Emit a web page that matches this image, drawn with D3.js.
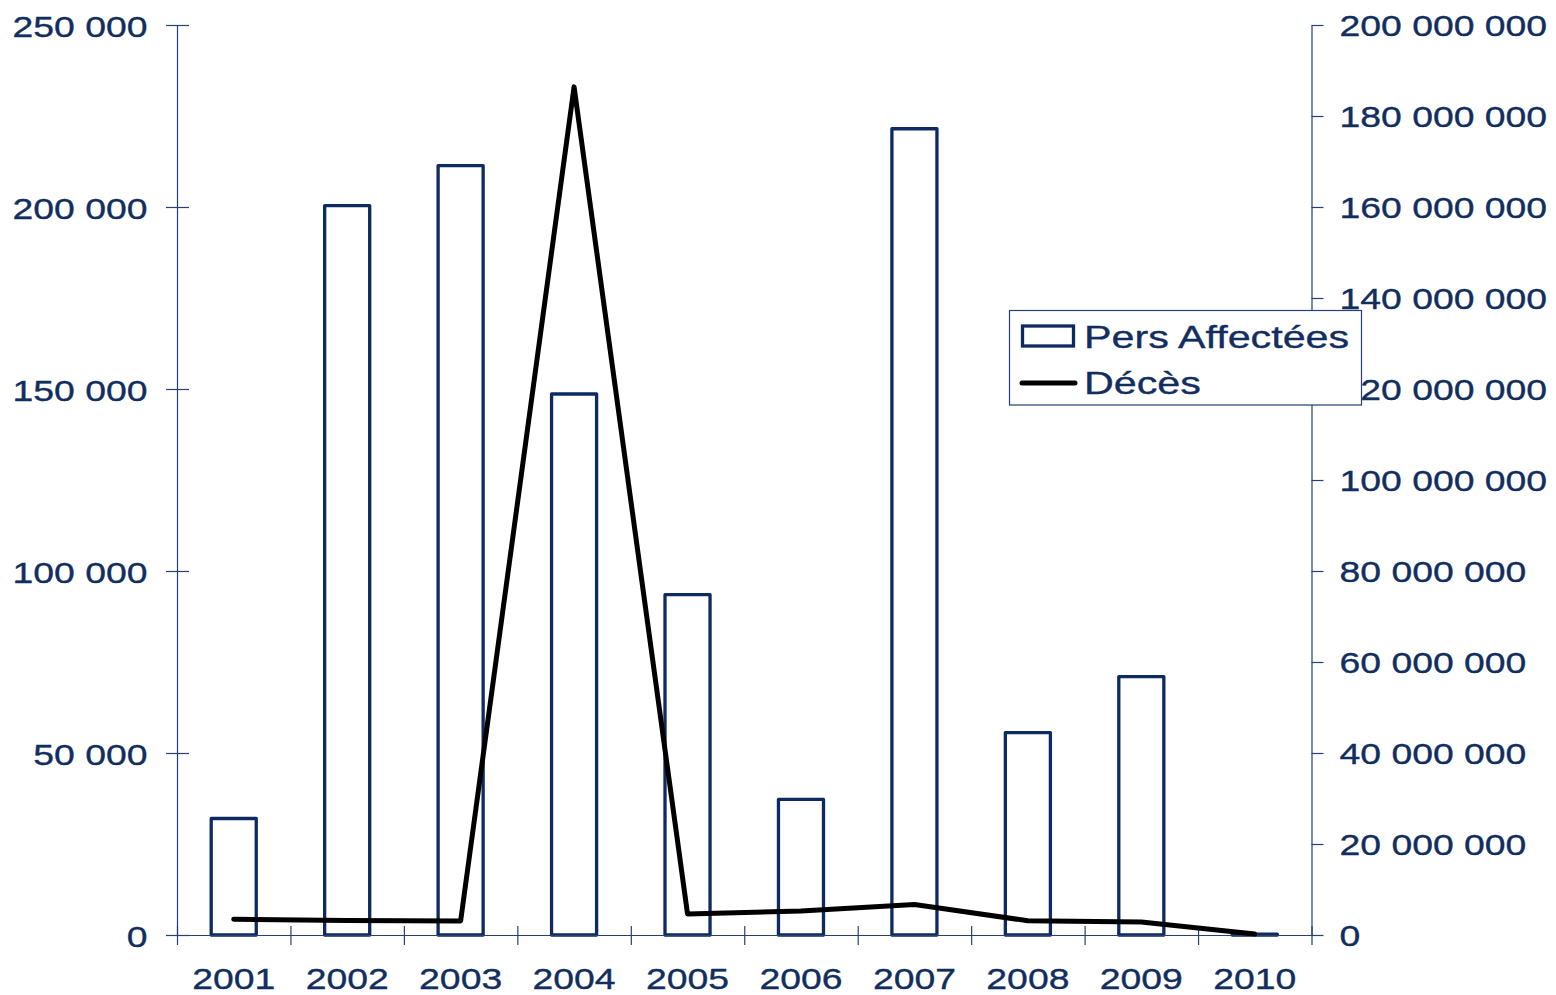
<!DOCTYPE html>
<html>
<head>
<meta charset="utf-8">
<script src="https://cdn.jsdelivr.net/npm/d3@7"></script>
<style>
  html, body { margin: 0; padding: 0; background: #ffffff; }
  svg { display: block; }
</style>
</head>
<body>
<svg id="chart" width="1556" height="995"></svg>
<script>
// ---- data ----
const years = ['2001','2002','2003','2004','2005','2006','2007','2008','2009','2010'];
const persAffectees = [25600000, 160300000, 169100000, 118900000, 74800000, 29800000, 177200000, 44500000, 56800000, 200000];
const deces = [4300, 4000, 3850, 233000, 5800, 6600, 8400, 3900, 3600, 300];
const leftTicks = [0, 50000, 100000, 150000, 200000, 250000];
const rightTicks = [0, 20000000, 40000000, 60000000, 80000000, 100000000, 120000000, 140000000, 160000000, 180000000, 200000000];
const seriesNames = ['Pers Affectées', 'Décès'];

(function () {
// ---- style ----
const NAVY = '#0d2a61';
const TEXT = '#122e5e';
const AXIS = '#26406f';
const FONT = "'Liberation Sans', Arial, sans-serif";
const FS = 30, SX = 1.245;

const svg = d3.select('#chart');
svg.append('rect').attr('width', 1556).attr('height', 995).attr('fill', '#fff');

const pLeft = 177, pRight = 1311.5, pTop = 25, pBottom = 935;

const x = d3.scaleBand().domain(years).range([pLeft, pRight]).paddingInner(0.603).paddingOuter(0.3015);
const xb = d3.scaleLinear().domain([0, years.length]).range([pLeft, pRight]);
const yL = d3.scaleLinear().domain([0, 250000]).range([pBottom, pTop]);
const yR = d3.scaleLinear().domain([0, 200000000]).range([pBottom, pTop]);

const fmt = v => d3.format(',')(v).replace(/,/g, ' ');

function styleText(sel, dx, dy, anchor) {
  sel.attr('x', null).attr('y', null).attr('dy', null)
    .attr('fill', TEXT)
    .attr('stroke', TEXT).attr('stroke-width', 0.35)
    .style('font-family', FONT).style('font-size', FS + 'px')
    .attr('text-anchor', anchor)
    .attr('transform', `translate(${dx},${dy}) scale(${SX},1)`);
}

// ---- bars ----
svg.append('g').selectAll('rect').data(years).join('rect')
  .attr('x', d => x(d))
  .attr('width', x.bandwidth())
  .attr('y', (d, i) => yR(persAffectees[i]))
  .attr('height', (d, i) => Math.max(0.5, yR(0) - yR(persAffectees[i])))
  .attr('fill', 'none')
  .attr('stroke', NAVY)
  .attr('stroke-width', 3.3)
  .attr('stroke-linejoin', 'round');

// ---- left axis ----
const gL = svg.append('g').attr('transform', `translate(${pLeft},0)`)
  .call(d3.axisLeft(yL).tickValues(leftTicks).tickFormat(fmt).tickSize(11).tickSizeOuter(0));
gL.select('.domain').attr('stroke', AXIS).attr('stroke-width', 1.2);
gL.selectAll('.tick line').attr('x1', 12).attr('stroke', AXIS).attr('stroke-width', 1.2);
gL.selectAll('.tick text').call(styleText, -29.5, 11, 'end');

// ---- right axis ----
const gR = svg.append('g').attr('transform', `translate(${pRight},0)`)
  .call(d3.axisRight(yR).tickValues(rightTicks).tickFormat(fmt).tickSize(12).tickSizeOuter(0));
gR.select('.domain').attr('stroke', AXIS).attr('stroke-width', 1.2);
gR.selectAll('.tick line').attr('stroke', AXIS).attr('stroke-width', 1.2);
gR.selectAll('.tick text').call(styleText, 28, 10.5, 'start');

// ---- bottom axis: boundary ticks ----
const gB = svg.append('g').attr('transform', `translate(0,${pBottom})`)
  .call(d3.axisBottom(xb).tickValues(d3.range(years.length + 1)).tickFormat('').tickSize(10).tickSizeOuter(0));
gB.select('.domain').attr('stroke', AXIS).attr('stroke-width', 1.2);
gB.selectAll('.tick line').attr('y1', -9).attr('stroke', AXIS).attr('stroke-width', 1.2);

// ---- bottom axis: category labels ----
const gC = svg.append('g').attr('transform', `translate(0,${pBottom})`)
  .call(d3.axisBottom(x).tickSize(0));
gC.select('.domain').remove();
gC.selectAll('.tick text').call(styleText, 0, 54, 'middle');

// ---- line ----
const line = d3.line()
  .x((d, i) => x(years[i]) + x.bandwidth() / 2)
  .y(d => yL(d));
svg.append('path').datum(deces)
  .attr('d', line)
  .attr('fill', 'none')
  .attr('stroke', '#000')
  .attr('stroke-width', 5)
  .attr('stroke-linejoin', 'round')
  .attr('stroke-linecap', 'round');

// ---- legend ----
const lg = svg.append('g');
lg.append('rect').attr('x', 1009.5).attr('y', 310.5).attr('width', 352).attr('height', 94.5)
  .attr('fill', '#fff').attr('stroke', AXIS).attr('stroke-width', 1.2);
lg.append('rect').attr('x', 1022.5).attr('y', 326).attr('width', 51).attr('height', 20)
  .attr('fill', 'none').attr('stroke', NAVY).attr('stroke-width', 3.3);
lg.append('line').attr('x1', 1022).attr('x2', 1075).attr('y1', 383).attr('y2', 383)
  .attr('stroke', '#000').attr('stroke-width', 5).attr('stroke-linecap', 'round');
lg.selectAll('text.lt').data(seriesNames).join('text')
  .attr('class', 'lt')
  .attr('transform', (d, i) => `translate(1084,${i === 0 ? 348 : 394}) scale(1.31,1)`)
  .attr('fill', TEXT)
  .attr('stroke', TEXT).attr('stroke-width', 0.35)
  .style('font-family', FONT).style('font-size', '31.5px')
  .text(d => d);
})();
</script>
</body>
</html>
